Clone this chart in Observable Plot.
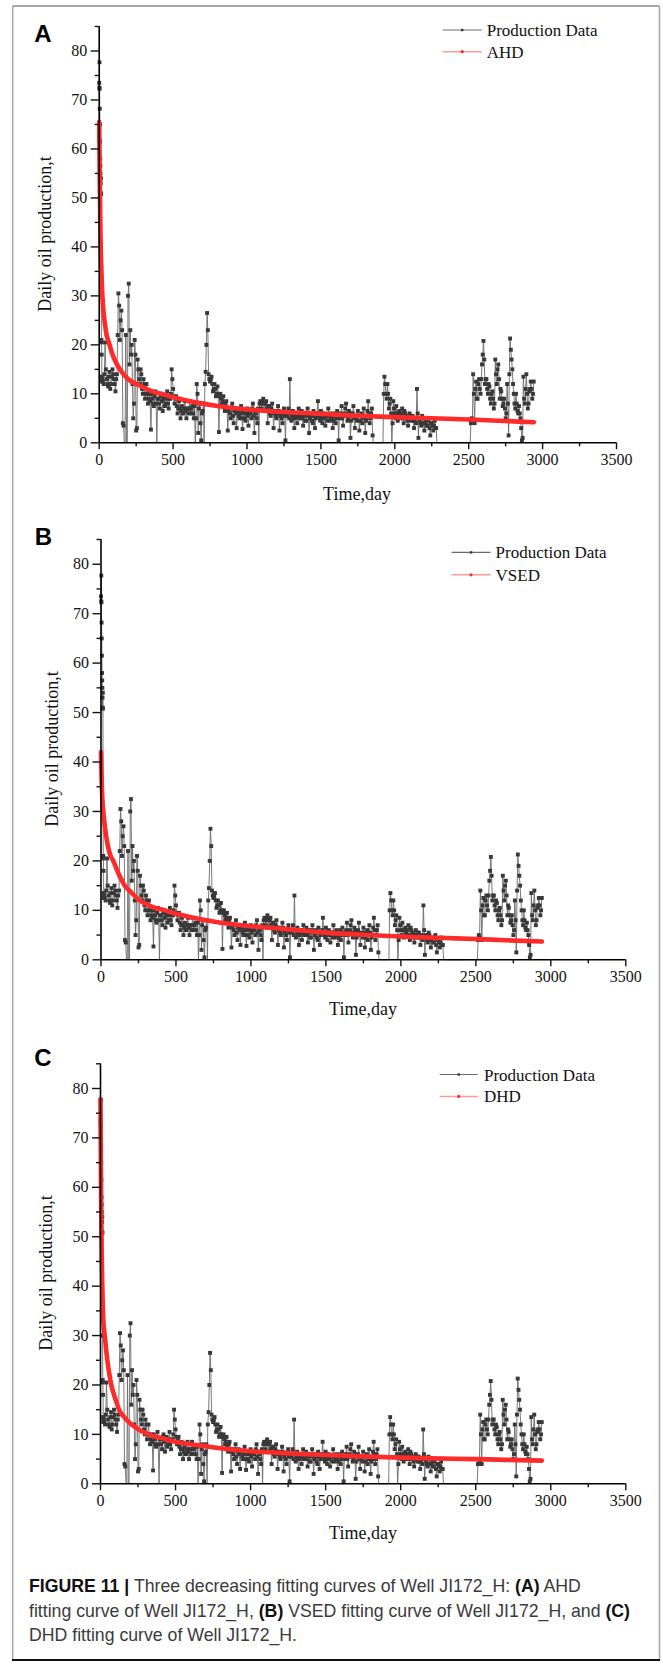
<!DOCTYPE html>
<html>
<head>
<meta charset="utf-8">
<script src="https://cdn.jsdelivr.net/npm/d3@7"></script>
<script src="https://cdn.jsdelivr.net/npm/@observablehq/plot@0.6"></script>
<style>
  html, body { margin: 0; padding: 0; background: #fff; }
  #fig { position: relative; width: 663px; height: 1665px; overflow: hidden; font-family: "Liberation Serif", "Times New Roman", serif; color: #111; }
  .abs { position: absolute; white-space: nowrap; }
  .panel-svg { position: absolute; left: 0; }
  .letter { font-family: "Liberation Sans", Arial, sans-serif; font-weight: bold; font-size: 24px; color: #000; transform: translate(-50%, -50%); }
  .axtitle { font-size: 18px; transform: translate(-50%, -50%); }
  .ytitle { font-size: 18px; transform: translate(-50%, -50%) rotate(-90deg); }
  .legtext { font-size: 17px; transform: translateY(-50%); line-height: 1; }
  .caption { font-family: "Liberation Sans", Arial, sans-serif; font-size: 17.7px; color: #3a3a3a; line-height: 24.5px; }
  .caption b { color: #111; }
</style>
</head>
<body>
<div id="fig"></div>
<script>
// ---------- Production data (same in all three panels) ----------
// first days, daily
const prodEarlyDays = [0,1,2,3,4,5,6,7,8,9,10,11,12,13,14,15,16,17,18,19];
const prodEarlyOil  = [73.5,72.5,77.7,72.3,68.2,65,61.5,58,56.5,55,53,51,54,50.8,30,21,20.5,18,13.5,12.5];
// readings on days 20, 30, 40, ... 2940
const prodStartDay = 20;
const prodStepDays = 10;
const prodOil = [
  13,12,20.5,13,11.5,14.5,12,15,13,10.5,        // 20-110
  14,30.5,21,27,4,0,22,0,32.5,23,               // 120-210
  20,5,21,2.5,17,13,15,11,13,9,                 // 220-310
  12,8,10,2.7,9,7.5,10.5,0,9,7,                 // 320-410
  10,6.5,9.5,8,10.5,7,9,15,11,8,                // 420-510
  9.5,6,8.5,5,7.5,6,8.5,5,7,8.5,                // 520-610
  6,7.5,5,0,12,2,8,0.5,6.5,0,                   // 620-710
  14.5,26.5,14,12.5,13.5,10.5,12,9.5,11.5,2.2,  // 720-810
  10,8,9.5,6.5,8.5,2.5,7,5,8,4,                 // 820-910
  7,3,6.5,5,7.5,2.8,6,4.5,7,3.5,                // 920-1010
  6.5,5,8,2,6,4,0,8.5,7,9,                      // 1020-1110
  6.5,8.5,4,7.5,5.5,8,3,6.5,5,7.5,              // 1120-1210
  2.5,6,4,7,0.5,5.5,7,13,4.5,6.5,               // 1220-1310
  3,5.5,4,7,5,6.5,3.5,5.5,4.5,7,                // 1320-1410
  2,6,4.5,6.5,3,5.5,8.5,5,6.5,4,                // 1420-1510
  6,3.5,5.5,7,4.5,6,3,5.5,4,6.5,                // 1520-1610
  0.5,5,7.5,3.5,6,8,4.5,6.5,1,5.5,              // 1620-1710
  7.5,3,5,6.5,2.5,5.5,4,7,2,5,                  // 1720-1810
  8.5,4,6,1.5,0,0,0,0,0,0,                      // 1820-1910
  0,13.5,10,12,7,9,0,8.5,6,7.5,                 // 1920-2010
  4.5,6.5,5,7,4,6,5.5,3.5,6,4.5,                // 2020-2110
  5.5,3,5,11,1,4.5,3.5,5,2.5,4.5,               // 2120-2210
  3.5,5,1.5,4,2.5,4.5,3,0,0,0,                  // 2220-2310
  0,0,0,0,0,0,0,0,0,0,                          // 2320-2410
  0,0,0,0,0,0,0,0,0,0,                          // 2420-2510
  5,14,4,12.5,9,13,10,16,20.8,12,               // 2520-2610
  13,10,11.5,8,10.5,7,17,12,16,9,               // 2620-2710
  10.5,7.5,9,5,12,1.5,21.3,17,12,8,             // 2720-2810
  10,6.5,7.5,5,0.5,13.5,8,14,7,10.5,            // 2820-2910
  12.5,9,12.5                                   // 2920-2940
];
// readings on days 25, 35, 45, ... 2935
const prodMidStartDay = 25;
const prodOilMid = [
  12.5,14,15,12,13.5,11,13.5,14,12,13,          // 25-115
  22,28,25,23,3.5,0,0,30,16,18,                 // 125-215
  12,8,18,3,15,12,14,10,12,10,                  // 225-315
  10,9,8.5,10,8,9.5,8,9,8,9.5,                  // 325-415
  8.5,9,7.5,9,8,9,10,13,9.5,9,                  // 425-515
  7.5,7,7,6.5,6,7,6.5,7,6,7,                    // 525-615
  7,6,7.5,5,10,7,4,6,8,12,                      // 625-715
  20,23,13,13,12,11,11,10,10,9.5,               // 725-815
  9,8.5,7.5,8,7,6.5,6,7,5.5,6.5,                // 825-915
  6,6.5,5.5,6,5,6.5,5,6,5.5,6,                  // 925-1015
  6,7,5.5,6.5,5,7,8,8,8.5,8,                    // 1025-1115
  8,7,7.5,6,7,6.5,6,5.5,6,6.5,                  // 1125-1215
  5.5,5,6,5.5,6,6,5,6,5.5,5,                    // 1225-1315
  5,6,5.5,5,5.5,5,6,4.5,6,5.5,                  // 1325-1415
  5,5.5,4,5.5,5,6,5.5,4.5,5.5,5,                // 1425-1515
  5,5.5,4.5,5.5,5,5,4.5,6,5,5.5,                // 1525-1615
  5.5,6,5,5.5,7,5.5,5,6,4.5,6,                  // 1625-1715
  5,5.5,4.5,5.5,4.5,6,5,5.5,4.5,6.5,            // 1725-1815
  6,5,7,0,0,0,0,0,0,0,                          // 1825-1915
  10,12,9,10,8,6,4,7,5,6,                       // 1925-2015
  6,5.5,6,5,6.5,5,4.5,5,5,5.5,                  // 2025-2115
  4.5,4.5,4,6,5,4,5.5,4,4,3.5,                  // 2125-2215
  4.5,3,4,3.5,3.5,3,0,0,0,0,                    // 2225-2315
  0,0,0,0,0,0,0,0,0,0,                          // 2325-2415
  0,0,0,0,0,0,0,0,0,4,                          // 2425-2515
  4.5,10,11,9,12,11,13,18,17,13,                // 2525-2615
  11,12,9,10,9,8,14,15,13,11,                   // 2625-2715
  9,8,7,6,8,14,19,15,10,7,                      // 2725-2815
  8,6,6,3,1,9,11,10,8,11,                       // 2825-2915
  11,10                                         // 2925-2935
];

// ---------- Fitted curves ----------
const ahdDays = [0,1,2,3,4,5,6,7,8,9,10,12,14,16,18,20,25,30,40,50,60,70,85,100,120,140,170,200,260,300,350,420,500,600,700,800,934,1100,1300,1450,1700,1900,2200,2500,2700,2940];
const ahdOil  = [65.5,62,59,56,53.5,51,48.5,46,44,42,40.5,38,36,34,32.5,31,28.5,26.5,24,22,21,20,18.5,17.3,16,15,13.8,12.9,11.9,11.3,10.6,10,9.3,8.6,8,7.5,7,6.6,6.2,6,5.6,5.35,5.05,4.75,4.5,4.2];

const vsedDays = [0,1,2,3,4,5,6,8,10,12,15,20,25,30,40,50,60,82,100,120,140,158,200,257,300,350,427,500,600,700,800,1000,1200,1500,1800,2000,2300,2500,2700,2940];
const vsedOil  = [42,40.5,39,37.8,36.7,35.7,34.8,33.2,32,31,30,28.5,27.2,26,24,22.5,21.3,20,18.7,17.2,16,15,13.7,12,11.3,10.6,10,9.3,8.6,8,7.5,6.8,6.3,5.5,5,4.7,4.4,4.2,3.95,3.7];

const dhdDays = [0,1,2,3,4,5,6,7,8,9,10,12,14,17,20,25,30,40,50,60,72,90,110,123,150,207,260,320,400,500,600,700,800,1000,1200,1400,1700,2000,2200,2500,2700,2940];
const dhdOil  = [77.8,72,67,62.5,58.5,55,52,49.5,47,45,43,40,37.5,34.5,32.5,30.8,29.5,26.5,24,22,20,18,16.2,15,13.8,12,10.9,10,9.3,8.5,8,7.6,7.2,6.6,6.25,5.95,5.6,5.3,5.15,5,4.85,4.7];

// ---------- Axis ticks and labels ----------
const xMajorTicks = [0,500,1000,1500,2000,2500,3000,3500];
const xMinorTicks = [250,750,1250,1750,2250,2750,3250];
const yMajorTicks = [0,10,20,30,40,50,60,70,80];
const yMinorTicks = [5,15,25,35,45,55,65,75,85];
const xTitle = "Time,day";
const yTitle = "Daily oil production,t";
const seriesName = "Production Data";
const fitNames = ["AHD", "VSED", "DHD"];
const panelLetters = ["A", "B", "C"];

// ---------- Build tables ----------
const production = prodEarlyDays.map((d, i) => ({day: d, oil: prodEarlyOil[i]}))
  .concat(prodOil.map((v, i) => ({day: prodStartDay + i * prodStepDays, oil: v})))
  .concat(prodOilMid.map((v, i) => ({day: prodMidStartDay + i * prodStepDays, oil: v})))
  .sort((a, b) => a.day - b.day);
const fits = [
  ahdDays.map((d, i) => ({day: d, oil: ahdOil[i]})),
  vsedDays.map((d, i) => ({day: d, oil: vsedOil[i]})),
  dhdDays.map((d, i) => ({day: d, oil: dhdOil[i]}))
];

// ---------- Layout (page pixels) ----------
const layout = [
  {top: 0,    h: 480, ml: 98.7, mr: 47,   mt: 26,   mb: 37.7, letter: [43, 33.5],  xt: [357, 494],   yt: [45, 234],
   leg: {x0: 442.7, x1: 481.7, tx: 486.7, y1: 30, y2: 51.7}},
  {top: 500,  h: 490, ml: 100.5, mr: 37.7, mt: 39,  mb: 30.7, letter: [43.5, 537], xt: [363, 1009],  yt: [52, 749],
   leg: {x0: 451.6, x1: 490.5, tx: 495.6, y1: 552.4, y2: 574.8}},
  {top: 1030, h: 480, ml: 100,  mr: 37.7, mt: 33.3, mb: 26.7, letter: [43, 1057.5], xt: [363, 1533], yt: [46, 1273],
   leg: {x0: 439.7, x1: 477.8, tx: 484, y1: 1074.5, y2: 1096.4}}
];

const fig = document.getElementById("fig");
const RED = "#ff2b2b";
const DOT = "#383838";

function addDiv(cls, x, y, html) {
  const d = document.createElement("div");
  d.className = "abs " + cls;
  d.style.left = x + "px";
  d.style.top = y + "px";
  d.innerHTML = html;
  fig.appendChild(d);
  return d;
}

layout.forEach((L, k) => {
  const plot = Plot.plot({
    width: 663,
    height: L.h,
    marginLeft: L.ml,
    marginRight: L.mr,
    marginTop: L.mt,
    marginBottom: L.mb,
    style: {fontFamily: "'Liberation Serif', 'Times New Roman', serif", fontSize: "16px", color: "#111", background: "transparent", overflow: "visible"},
    x: {domain: [0, 3500]},
    y: {domain: [0, 85]},
    marks: [
      Plot.line(production, {x: "day", y: "oil", stroke: "#6a6a6a", strokeWidth: 0.9}),
      Plot.dot(production.filter(d => d.oil > 0), {x: "day", y: "oil", symbol: "square", r: 2.2, fill: DOT, stroke: "none"}),
      Plot.line(fits[k], {x: "day", y: "oil", stroke: RED, strokeWidth: 4.6, curve: "monotone-x"}),
      Plot.dot(fits[k], {x: "day", y: "oil", r: 1.9, fill: RED, stroke: "none"}),
      Plot.ruleY([0], {stroke: "#000", strokeWidth: 1.6}),
      Plot.ruleX([0], {stroke: "#000", strokeWidth: 1.6}),
      Plot.axisX({ticks: xMajorTicks, tickSize: 7, tickPadding: 4, strokeWidth: 1.4, label: null, tickFormat: d => String(d)}),
      Plot.axisX({ticks: xMinorTicks, tickSize: 4, strokeWidth: 1.4, label: null, tickFormat: () => ""}),
      Plot.axisY({ticks: yMajorTicks, tickSize: 8, tickPadding: 4, strokeWidth: 1.4, label: null, tickFormat: d => String(d)}),
      Plot.axisY({ticks: yMinorTicks, tickSize: 4, strokeWidth: 1.4, label: null, tickFormat: () => ""})
    ]
  });
  plot.classList.add("panel-svg");
  plot.style.top = L.top + "px";
  plot.style.position = "absolute";
  fig.appendChild(plot);

  addDiv("letter", L.letter[0], L.letter[1], panelLetters[k]);
  addDiv("axtitle", L.xt[0], L.xt[1], xTitle);
  addDiv("ytitle", L.yt[0], L.yt[1], yTitle);

  const g = L.leg;
  const sw = document.createElementNS("http://www.w3.org/2000/svg", "svg");
  sw.setAttribute("width", 663); sw.setAttribute("height", 1665);
  sw.style.position = "absolute"; sw.style.left = "0px"; sw.style.top = "0px"; sw.style.pointerEvents = "none";
  const mid = (g.x0 + g.x1) / 2;
  sw.innerHTML =
    `<line x1="${g.x0}" x2="${g.x1}" y1="${g.y1}" y2="${g.y1}" stroke="#6a6a6a" stroke-width="1.1"/>` +
    `<rect x="${mid - 1.2}" y="${g.y1 - 1.2}" width="2.4" height="2.4" fill="${DOT}"/>` +
    `<line x1="${g.x0}" x2="${g.x1}" y1="${g.y2}" y2="${g.y2}" stroke="#ff9a9a" stroke-width="1.5"/>` +
    `<circle cx="${mid}" cy="${g.y2}" r="1.6" fill="${RED}"/>`;
  fig.appendChild(sw);
  addDiv("legtext", g.tx, g.y1, seriesName);
  addDiv("legtext", g.tx, g.y2, fitNames[k]);
});

addDiv("caption", 29, 1574,
  "<b>FIGURE 11 |</b> Three decreasing fitting curves of Well JI172_H: <b>(A)</b> AHD<br>" +
  "fitting curve of Well JI172_H, <b>(B)</b> VSED fitting curve of Well JI172_H, and <b>(C)</b><br>" +
  "DHD fitting curve of Well JI172_H.");

const frame = document.createElementNS("http://www.w3.org/2000/svg", "svg");
frame.setAttribute("width", 663); frame.setAttribute("height", 1665);
frame.style.position = "absolute"; frame.style.left = "0px"; frame.style.top = "0px"; frame.style.pointerEvents = "none";
frame.innerHTML =
  `<line x1="12.7" x2="12.7" y1="6" y2="1660" stroke="#a6a6a6" stroke-width="1.5"/>` +
  `<line x1="12.7" x2="659.5" y1="6" y2="6" stroke="#8c8c8c" stroke-width="1.5"/>` +
  `<line x1="659.5" x2="659.5" y1="6" y2="1660" stroke="#a6a6a6" stroke-width="1.5"/>` +
  `<line x1="12" x2="660" y1="1660" y2="1660" stroke="#111" stroke-width="2"/>`;
fig.appendChild(frame);
</script>
</body>
</html>
